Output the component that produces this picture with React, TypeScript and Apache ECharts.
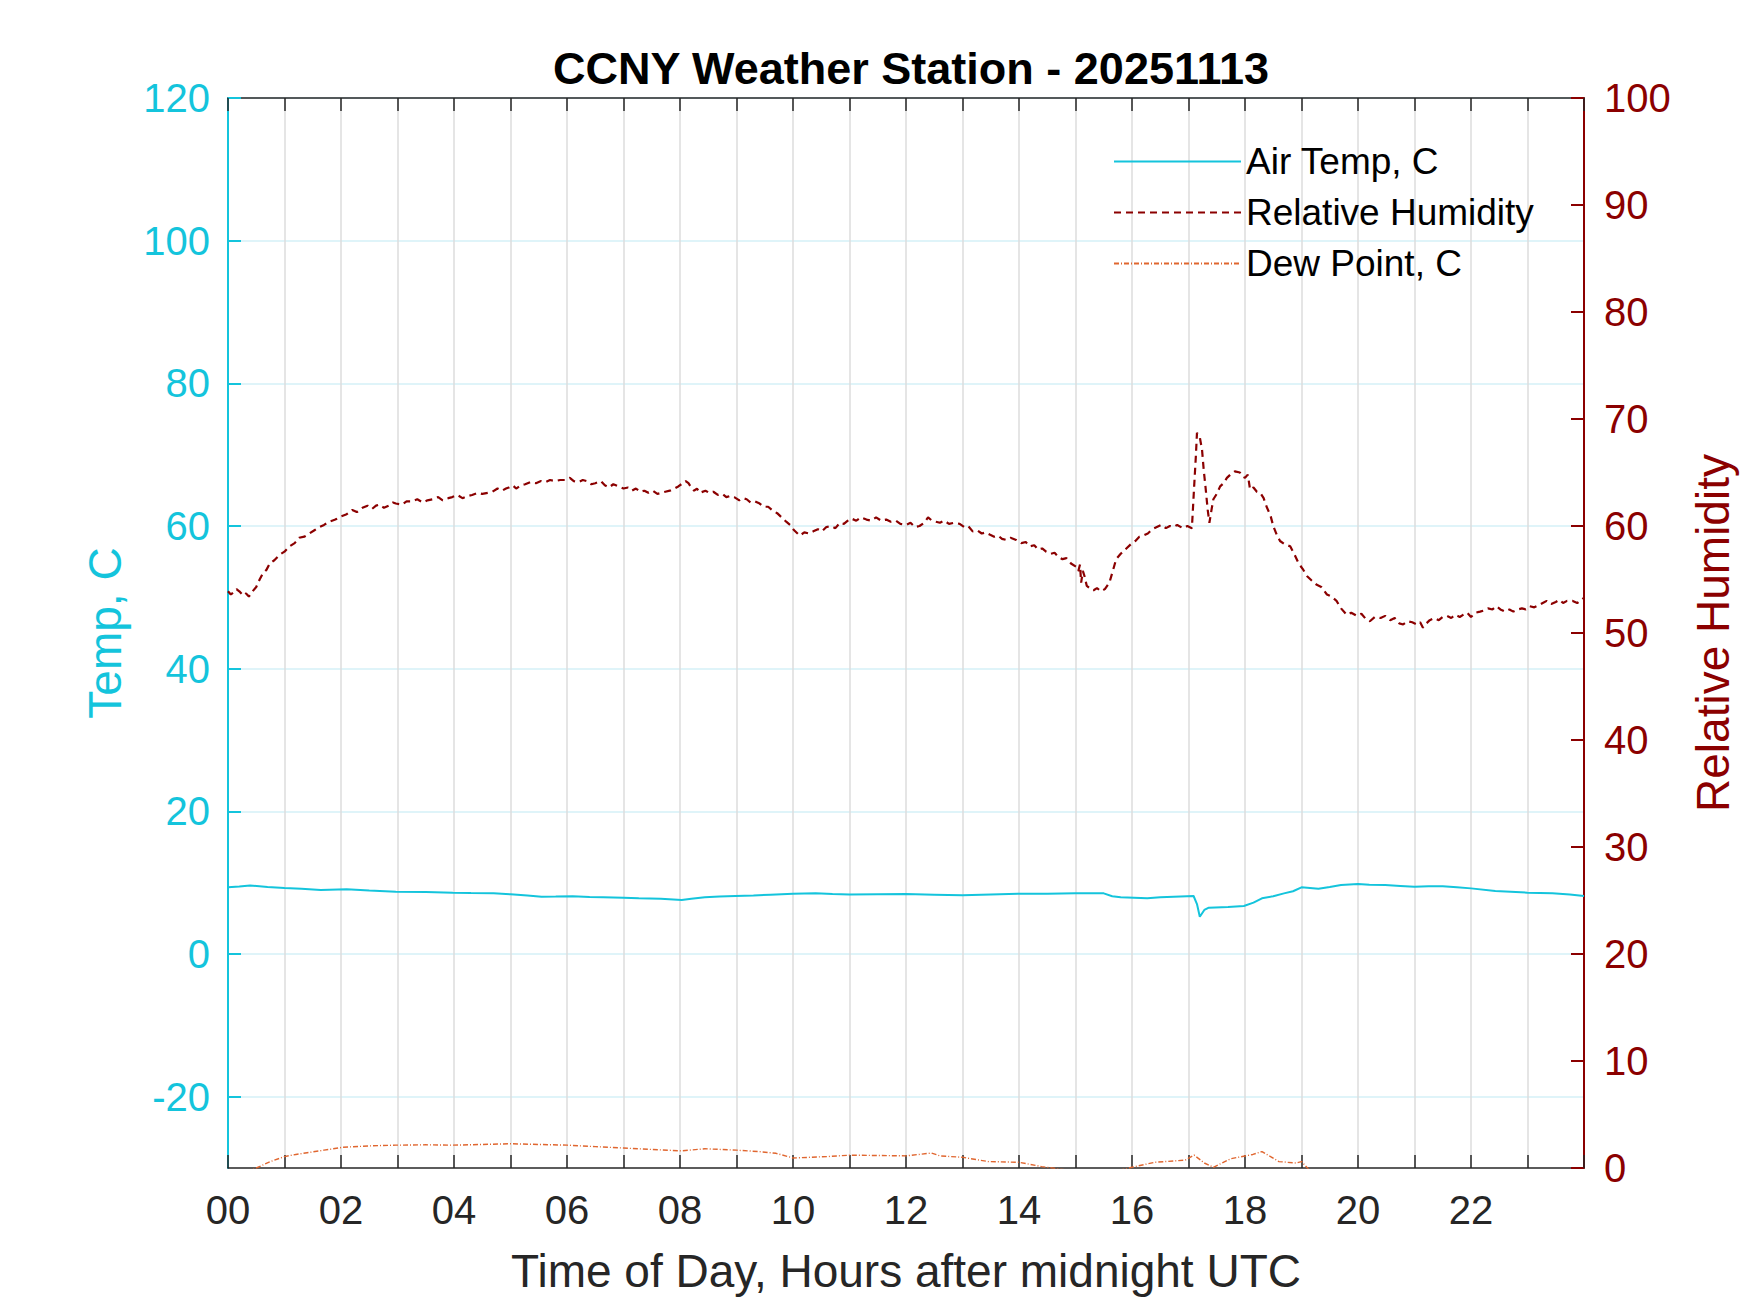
import React, { useEffect, useRef } from "react";
import * as echarts from "echarts";

const CHART_TITLE = "CCNY Weather Station - 20251113";
const X_NAME = "Time of Day, Hours after midnight UTC";
const TEMP_NAME = "Temp, C";
const RH_NAME = "Relative Humidity";
const SERIES_NAMES = ["Air Temp, C", "Relative Humidity", "Dew Point, C"];
const TEMP_TICKS = [-20, 0, 20, 40, 60, 80, 100, 120];

// [hour, deg C]
const airTemp: number[][] = [
  [0.0, 9.35], [0.2, 9.45], [0.39, 9.6], [0.7, 9.4], [1.0, 9.25], [1.3, 9.15], [1.64, 8.97], [2.1, 9.07],
  [2.5, 8.9], [2.97, 8.74], [3.5, 8.68], [3.98, 8.6], [4.3, 8.55], [4.7, 8.5], [5.0, 8.37], [5.3, 8.2],
  [5.55, 8.04], [5.8, 8.05], [6.1, 8.09], [6.4, 8.0], [6.64, 7.95], [7.0, 7.88], [7.27, 7.81], [7.66, 7.76],
  [8.03, 7.57], [8.2, 7.75], [8.44, 7.95], [8.7, 8.05], [8.98, 8.13], [9.3, 8.2], [9.6, 8.31], [10.0, 8.46],
  [10.4, 8.5], [10.7, 8.42], [11.0, 8.35], [11.5, 8.38], [12.0, 8.4], [12.5, 8.32], [13.0, 8.23], [13.5, 8.35],
  [14.0, 8.46], [14.5, 8.46], [15.0, 8.5], [15.3, 8.52], [15.5, 8.5], [15.65, 8.1], [15.8, 7.95], [16.27, 7.81],
  [16.5, 7.95], [16.74, 8.04], [17.09, 8.13], [17.15, 7.0], [17.2, 5.23], [17.28, 6.17], [17.36, 6.5],
  [17.7, 6.6], [17.98, 6.73], [18.15, 7.2], [18.3, 7.81], [18.5, 8.1], [18.69, 8.5], [18.85, 8.8],
  [19.0, 9.35], [19.3, 9.16], [19.5, 9.4], [19.7, 9.67], [20.0, 9.8], [20.2, 9.7], [20.48, 9.67],
  [20.75, 9.55], [21.0, 9.44], [21.25, 9.5], [21.5, 9.5], [21.75, 9.35], [22.0, 9.2], [22.43, 8.83],
  [23.0, 8.6], [23.44, 8.5], [23.75, 8.35], [24.0, 8.13],
];

// [hour, %]
const humidity: number[][] = [
  [0.0, 53.9], [0.05, 53.6], [0.1, 53.8], [0.15, 54.1], [0.2, 53.9], [0.27, 53.5], [0.32, 53.7], [0.37, 53.4],
  [0.42, 53.8], [0.5, 54.3], [0.56, 55.0], [0.62, 55.6], [0.68, 55.9], [0.74, 56.5], [0.82, 56.8], [0.91, 57.3],
  [1.0, 57.6], [1.09, 58.1], [1.18, 58.4], [1.26, 58.9], [1.35, 59.0], [1.44, 59.3], [1.53, 59.6], [1.62, 59.9],
  [1.7, 60.1], [1.79, 60.4], [1.9, 60.6], [2.0, 60.9], [2.1, 61.1], [2.2, 61.5], [2.28, 61.3], [2.38, 61.7],
  [2.47, 61.9], [2.55, 61.6], [2.62, 61.9], [2.68, 62.0], [2.76, 61.7], [2.85, 61.9], [2.92, 62.2], [2.97, 62.1],
  [3.08, 62.0], [3.16, 62.3], [3.26, 62.3], [3.35, 62.5], [3.45, 62.2], [3.53, 62.4], [3.62, 62.5], [3.72, 62.7],
  [3.8, 62.4], [3.9, 62.6], [3.97, 62.7], [4.06, 62.9], [4.15, 62.6], [4.24, 62.8], [4.32, 62.9], [4.42, 63.1],
  [4.5, 63.0], [4.6, 63.1], [4.68, 63.2], [4.77, 63.5], [4.85, 63.3], [4.92, 63.5], [4.97, 63.6], [5.04, 63.8],
  [5.1, 63.5], [5.18, 63.8], [5.26, 63.9], [5.35, 64.1], [5.45, 64.0], [5.54, 64.2], [5.62, 64.1], [5.7, 64.3],
  [5.79, 64.2], [5.88, 64.3], [5.97, 64.3], [6.05, 64.5], [6.12, 64.2], [6.2, 64.1], [6.28, 64.3], [6.35, 64.2],
  [6.43, 63.9], [6.5, 64.0], [6.6, 64.2], [6.67, 63.8], [6.74, 63.6], [6.82, 63.9], [6.91, 63.7], [7.0, 63.5],
  [7.08, 63.6], [7.15, 63.3], [7.22, 63.5], [7.3, 63.2], [7.37, 63.3], [7.44, 63.1], [7.52, 63.3], [7.6, 63.0],
  [7.67, 63.1], [7.74, 63.2], [7.82, 63.3], [7.9, 63.5], [7.97, 63.7], [8.05, 64.0], [8.1, 64.2], [8.15, 64.0],
  [8.2, 63.6], [8.25, 63.3], [8.3, 63.5], [8.35, 63.1], [8.45, 63.3], [8.52, 63.1], [8.59, 63.2], [8.67, 62.9],
  [8.75, 63.0], [8.82, 62.7], [8.88, 62.8], [8.96, 62.7], [9.05, 62.4], [9.12, 62.6], [9.18, 62.5], [9.25, 62.2],
  [9.33, 62.3], [9.41, 62.1], [9.48, 61.8], [9.56, 61.8], [9.65, 61.4], [9.72, 61.2], [9.8, 60.8], [9.88, 60.4],
  [9.95, 60.1], [10.02, 59.6], [10.08, 59.3], [10.12, 59.1], [10.2, 59.4], [10.28, 59.3], [10.36, 59.5],
  [10.44, 59.7], [10.51, 59.5], [10.59, 59.9], [10.67, 60.0], [10.75, 59.8], [10.83, 60.3], [10.9, 60.2],
  [10.97, 60.5], [11.03, 60.7], [11.12, 60.5], [11.2, 60.8], [11.3, 60.6], [11.38, 60.5], [11.47, 60.8],
  [11.56, 60.5], [11.65, 60.6], [11.73, 60.4], [11.82, 60.5], [11.9, 60.2], [12.0, 60.1], [12.08, 60.3],
  [12.16, 59.9], [12.24, 60.0], [12.32, 60.3], [12.39, 60.8], [12.46, 60.5], [12.53, 60.4], [12.6, 60.3],
  [12.68, 60.5], [12.76, 60.2], [12.85, 60.3], [12.95, 60.2], [13.03, 59.9], [13.1, 60.0], [13.18, 59.5],
  [13.26, 59.6], [13.34, 59.3], [13.41, 59.4], [13.48, 59.2], [13.56, 59.0], [13.63, 59.1], [13.7, 58.8],
  [13.77, 58.7], [13.85, 58.9], [13.95, 58.7], [14.04, 58.4], [14.12, 58.5], [14.19, 58.1], [14.27, 58.2],
  [14.34, 57.8], [14.41, 57.9], [14.48, 57.6], [14.56, 57.4], [14.63, 57.5], [14.7, 57.1], [14.77, 56.9],
  [14.84, 57.0], [14.92, 56.5], [15.01, 56.2], [15.05, 55.8], [15.08, 56.4], [15.1, 54.7], [15.13, 55.8],
  [15.16, 55.3], [15.2, 54.4], [15.25, 54.2], [15.32, 54.0], [15.38, 54.2], [15.45, 53.9], [15.52, 54.1],
  [15.6, 54.7], [15.66, 55.8], [15.72, 56.9], [15.8, 57.4], [15.9, 57.9], [15.98, 58.3], [16.06, 58.6],
  [16.13, 59.0], [16.2, 59.1], [16.28, 59.3], [16.36, 59.7], [16.44, 59.9], [16.52, 60.1], [16.6, 59.8],
  [16.67, 60.0], [16.73, 59.9], [16.8, 60.1], [16.9, 59.8], [16.98, 60.0], [17.06, 59.8], [17.1, 63.7],
  [17.13, 66.5], [17.15, 68.7], [17.2, 68.3], [17.24, 67.1], [17.27, 65.2], [17.3, 63.7], [17.34, 61.5],
  [17.37, 60.3], [17.41, 61.6], [17.44, 62.5], [17.5, 63.0], [17.56, 63.7], [17.62, 64.0], [17.68, 64.5],
  [17.74, 64.8], [17.82, 65.1], [17.91, 65.0], [17.96, 64.6], [18.0, 64.5], [18.05, 64.8], [18.09, 63.4],
  [18.15, 63.6], [18.21, 63.2], [18.27, 63.1], [18.33, 62.6], [18.39, 61.7], [18.45, 61.0], [18.5, 60.0],
  [18.56, 59.2], [18.62, 58.6], [18.7, 58.3], [18.8, 58.1], [18.88, 57.3], [18.95, 56.5], [19.02, 56.0],
  [19.1, 55.3], [19.18, 54.9], [19.27, 54.5], [19.35, 54.3], [19.45, 53.6], [19.53, 53.4], [19.62, 53.0],
  [19.7, 52.3], [19.8, 51.7], [19.88, 51.9], [19.98, 51.6], [20.06, 51.8], [20.14, 51.3], [20.21, 51.1],
  [20.3, 51.5], [20.4, 51.4], [20.48, 51.6], [20.57, 51.2], [20.65, 51.4], [20.73, 50.9], [20.8, 50.8],
  [20.88, 51.1], [20.96, 51.0], [21.04, 50.8], [21.1, 51.0], [21.15, 50.5], [21.21, 50.9], [21.27, 51.2],
  [21.35, 51.4], [21.43, 51.2], [21.5, 51.5], [21.57, 51.6], [21.65, 51.4], [21.72, 51.7], [21.8, 51.5],
  [21.86, 51.7], [21.93, 51.9], [22.0, 51.5], [22.08, 51.9], [22.16, 52.0], [22.23, 52.1], [22.3, 52.3],
  [22.38, 52.2], [22.45, 52.5], [22.52, 52.2], [22.6, 52.0], [22.68, 52.2], [22.75, 52.0], [22.83, 52.2],
  [22.9, 52.3], [22.97, 52.2], [23.04, 52.5], [23.12, 52.4], [23.2, 52.6], [23.27, 52.8], [23.34, 53.0],
  [23.42, 52.7], [23.5, 52.9], [23.57, 53.1], [23.63, 52.8], [23.7, 53.0], [23.8, 53.0], [23.88, 52.8],
  [23.96, 53.1], [24.0, 53.3],
];

// [hour, deg C]
const dewPoint: number[][] = [
  [0.0, -31.5], [0.25, -30.8], [0.5, -30.0], [0.75, -29.1], [1.0, -28.4], [1.2, -28.1], [1.4, -27.86],
  [1.7, -27.5], [2.03, -27.1], [2.5, -26.9], [2.97, -26.8], [3.5, -26.75], [3.98, -26.8], [4.5, -26.7],
  [5.0, -26.6], [5.5, -26.7], [6.0, -26.8], [6.5, -27.0], [7.0, -27.2], [7.5, -27.4], [8.03, -27.6],
  [8.44, -27.3], [9.0, -27.5], [9.4, -27.7], [9.7, -27.94], [10.0, -28.6], [10.3, -28.5], [10.6, -28.4],
  [11.0, -28.2], [11.5, -28.25], [12.0, -28.3], [12.45, -27.9], [12.6, -28.3], [13.0, -28.5], [13.46, -29.1],
  [14.0, -29.2], [14.4, -29.8], [14.87, -30.3], [15.4, -31.0], [16.0, -29.9], [16.4, -29.2], [16.94, -28.9],
  [17.1, -28.2], [17.28, -29.3], [17.44, -29.9], [17.75, -28.7], [18.14, -28.1], [18.3, -27.7], [18.6, -29.1],
  [18.9, -29.3], [19.0, -29.1], [19.14, -30.3], [19.5, -31.5], [20.5, -31.8], [22.0, -31.6], [24.0, -31.9],
];

const CYAN = "#14C4DC";
const RED = "#8B0000";
const ORANGE = "#E0662F";
const DARK = "#262626";
const FONT = "'Liberation Sans', Arial, Helvetica, sans-serif";

export default function App() {
  const ref = useRef<HTMLDivElement>(null);

  useEffect(() => {
    if (!ref.current) return;
    const chart = echarts.init(ref.current, null, { renderer: "svg" });
    const hourTick = {
      show: true,
      inside: true,
      length: 13,
      lineStyle: { color: DARK, width: 1.5 },
    };
    chart.setOption({
      animation: false,
      backgroundColor: "#ffffff",
      textStyle: { fontFamily: FONT },
      title: {
        text: CHART_TITLE,
        left: 906,
        top: 41,
        textAlign: "center",
        textStyle: { fontSize: 45, fontWeight: "bold", color: "#000000", fontFamily: FONT },
      },
      legend: {
        orient: "vertical",
        left: 1113,
        top: 143,
        padding: 0,
        itemWidth: 127,
        itemHeight: 2,
        itemGap: 14,
        data: SERIES_NAMES,
        itemStyle: { opacity: 0 },
        textStyle: { fontSize: 37, color: "#000000", lineHeight: 37, fontFamily: FONT },
      },
      grid: { left: 228, right: 166, top: 98, bottom: 145, containLabel: false },
      xAxis: [
        {
          type: "value",
          min: 0,
          max: 24,
          interval: 1,
          position: "bottom",
          name: X_NAME,
          nameLocation: "middle",
          nameGap: 80,
          nameTextStyle: { fontSize: 46, color: DARK, fontFamily: FONT },
          axisLine: { show: true, onZero: false, lineStyle: { color: DARK, width: 1.5 } },
          axisTick: hourTick,
          axisLabel: {
            fontSize: 40,
            color: DARK,
            margin: 22,
            fontFamily: FONT,
            formatter: (v: number) => (v % 2 === 0 && v < 24 ? String(v).padStart(2, "0") : ""),
          },
          splitLine: { show: true, lineStyle: { color: "#DDDDDD", width: 1.5 } },
        },
        {
          type: "value",
          min: 0,
          max: 24,
          interval: 1,
          position: "top",
          axisLine: { show: true, onZero: false, lineStyle: { color: DARK, width: 1.5 } },
          axisTick: hourTick,
          axisLabel: { show: false },
          splitLine: { show: false },
        },
      ],
      yAxis: [
        {
          type: "value",
          min: -30,
          max: 120,
          position: "left",
          name: TEMP_NAME,
          nameLocation: "middle",
          nameGap: 100,
          nameRotate: 90,
          nameTextStyle: { fontSize: 46, color: CYAN, fontFamily: FONT },
          axisLine: { show: true, onZero: false, lineStyle: { color: CYAN, width: 2 } },
          axisTick: {
            show: true,
            inside: true,
            length: 13,
            customValues: TEMP_TICKS,
            lineStyle: { color: CYAN, width: 2 },
          },
          axisLabel: {
            customValues: TEMP_TICKS,
            fontSize: 40,
            color: CYAN,
            margin: 18,
            fontFamily: FONT,
          },
          splitLine: { show: true, lineStyle: { color: "#D4F1F7", width: 1.5 } },
        },
        {
          type: "value",
          min: 0,
          max: 100,
          interval: 10,
          position: "right",
          name: RH_NAME,
          nameLocation: "middle",
          nameGap: 106,
          nameRotate: 90,
          nameTextStyle: { fontSize: 46, color: RED, fontFamily: FONT },
          axisLine: { show: true, onZero: false, lineStyle: { color: RED, width: 2 } },
          axisTick: { show: true, inside: true, length: 13, lineStyle: { color: RED, width: 2 } },
          axisLabel: { fontSize: 40, color: RED, margin: 20, fontFamily: FONT },
          splitLine: { show: false },
        },
      ],
      series: [
        {
          name: SERIES_NAMES[0],
          type: "line",
          xAxisIndex: 0,
          yAxisIndex: 0,
          data: airTemp,
          symbol: "none",
          clip: true,
          lineStyle: { color: CYAN, width: 2 },
          itemStyle: { color: CYAN },
        },
        {
          name: SERIES_NAMES[1],
          type: "line",
          xAxisIndex: 0,
          yAxisIndex: 1,
          data: humidity,
          symbol: "none",
          clip: true,
          lineStyle: { color: RED, width: 2.2, type: [7, 5] },
          itemStyle: { color: RED },
        },
        {
          name: SERIES_NAMES[2],
          type: "line",
          xAxisIndex: 0,
          yAxisIndex: 0,
          data: dewPoint,
          symbol: "none",
          clip: true,
          lineStyle: { color: ORANGE, width: 1.4, type: [5, 2, 1, 2] },
          itemStyle: { color: ORANGE },
        },
      ],
    });
    return () => chart.dispose();
  }, []);

  return (
    <div
      ref={ref}
      style={{ position: "absolute", left: 0, top: 0, width: 1750, height: 1313, background: "#fff" }}
    />
  );
}
